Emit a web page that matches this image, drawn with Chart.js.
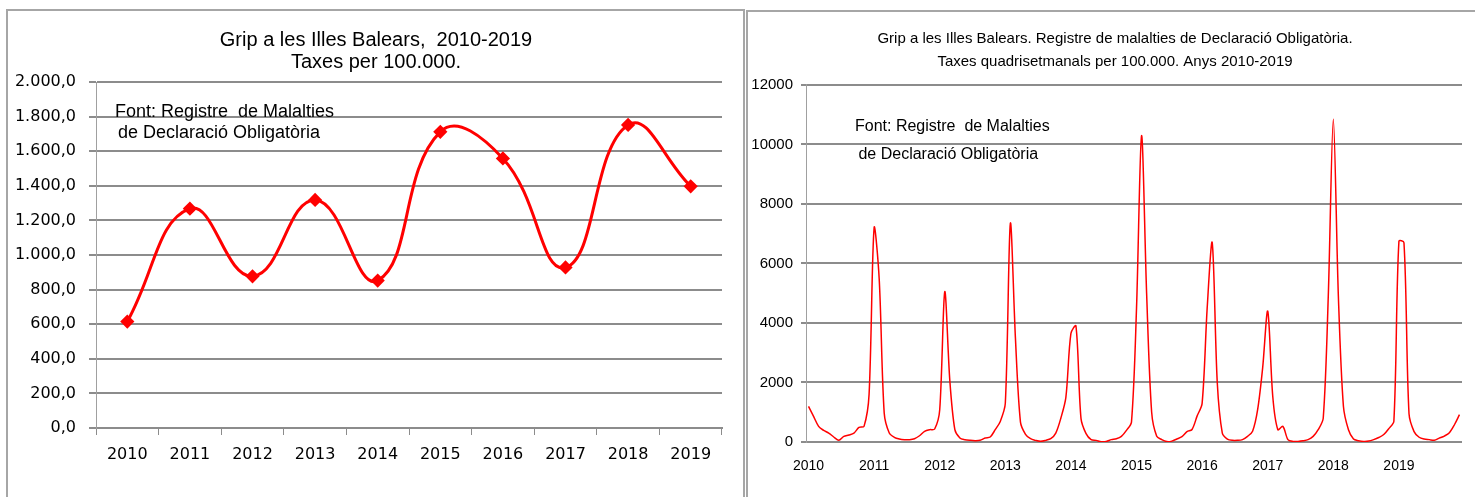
<!DOCTYPE html>
<html>
<head>
<meta charset="utf-8">
<script src="https://cdn.jsdelivr.net/npm/chart.js@4/dist/chart.umd.min.js"></script>
<style>
html,body{margin:0;padding:0;background:#fff;overflow:hidden;width:1475px;height:497px;}
.frame{position:absolute;border:2px solid #a6a6a6;box-sizing:border-box;}
#c1{position:absolute;left:7px;top:0;}
#c2{position:absolute;left:747px;top:0;}
</style>
</head>
<body>
<div class="frame" style="left:6px;top:9px;width:739px;height:600px;"></div>
<div class="frame" style="left:746px;top:10px;width:740px;height:600px;"></div>
<canvas id="c1" width="738" height="497"></canvas>
<canvas id="c2" width="736" height="497"></canvas>
<script>
// ---------- Left chart: annual rates ----------
const years = ['2010','2011','2012','2013','2014','2015','2016','2017','2018','2019'];
const annualRates = [615, 1268, 877, 1318, 852, 1712, 1558, 928, 1752, 1397];
const annualTitle = ['Grip a les Illes Balears,  2010-2019', 'Taxes per 100.000.'];
const annualNote = ['Font: Registre  de Malalties', ' de Declaració Obligatòria'];

// ---------- Right chart: four-weekly rates (13 periods per year) ----------
const rates2010 = [1200, 860, 525, 390, 300, 168, 56, 190, 235, 300, 490, 525, 1600];
const rates2011 = [7200, 5500, 970, 300, 157, 100, 78, 78, 110, 210, 360, 414, 436];
const rates2012 = [1085, 5050, 2070, 414, 134, 78, 56, 45, 56, 134, 168, 414, 690];
const rates2013 = [1300, 7350, 3500, 670, 260, 110, 55, 22, 55, 110, 300, 800, 1500];
const rates2014 = [3650, 3900, 785, 280, 80, 55, 10, 20, 80, 110, 190, 390, 670];
const rates2015 = [4500, 10300, 5000, 1000, 190, 80, 15, 30, 100, 180, 350, 420, 870];
const rates2016 = [1300, 4500, 6700, 2000, 300, 100, 55, 55, 80, 190, 360, 1085, 2500];
const rates2017 = [4400, 1530, 414, 525, 80, 20, 20, 40, 80, 190, 414, 800, 4900];
const rates2018 = [10850, 4900, 1200, 410, 100, 45, 20, 30, 80, 150, 250, 450, 700];
const rates2019 = [6750, 6700, 950, 350, 160, 100, 80, 60, 130, 200, 310, 580, 920];
const periodsPerYear = 13;
const quadTitle = ['Grip a les Illes Balears. Registre de malalties de Declaració Obligatòria.', 'Taxes quadrisetmanals per 100.000. Anys 2010-2019'];
const quadNote = ['Font: Registre  de Malalties', ' de Declaració Obligatòria'];

const quadRates = [].concat(rates2010, rates2011, rates2012, rates2013, rates2014,
                            rates2015, rates2016, rates2017, rates2018, rates2019);
const quadLabels = [];
years.forEach(y => { quadLabels.push(y); for (let k = 1; k < periodsPerYear; k++) quadLabels.push(''); });

function fmtEs(v) {
  const s = v.toFixed(1).split('.');
  const intPart = s[0].replace(/\B(?=(\d{3})+(?!\d))/g, '.');
  return intPart + ',' + s[1];
}

const notePlugin = {
  id: 'note',
  afterDraw(chart, args, opts) {
    const {ctx, chartArea} = chart;
    ctx.save();
    ctx.font = opts.font;
    ctx.fillStyle = '#000';
    ctx.textBaseline = 'alphabetic';
    ctx.textAlign = 'left';
    opts.lines.forEach(l => ctx.fillText(l.text, chartArea.left + l.dx, chartArea.top + l.dy));
    ctx.restore();
  }
};

const GRID = '#8c8c8c';
const AXIS = '#a0a0a0';
const SANS = '"Liberation Sans", Arial, sans-serif';

function spacerAxis(w) {
  return {
    position: 'right', display: true,
    grid: { display: false, drawTicks: false },
    border: { display: false },
    ticks: { display: false },
    afterFit(s) { s.width = w; }
  };
}

new Chart(document.getElementById('c1'), {
  type: 'line',
  data: {
    labels: years,
    datasets: [{
      data: annualRates,
      borderColor: '#ff0000',
      backgroundColor: '#ff0000',
      borderWidth: 3,
      tension: 0.45,
      pointStyle: 'rectRot',
      pointRadius: 5,
      pointBackgroundColor: '#ff0000',
      pointBorderColor: '#ff0000',
      fill: false
    }]
  },
  options: {
    responsive: false,
    animation: false,
    layout: { padding: 0 },
    plugins: {
      legend: { display: false },
      tooltip: { enabled: false },
      title: {
        display: true,
        text: annualTitle,
        color: '#000',
        font: { family: SANS, size: 20, weight: 'normal', lineHeight: 1.1 },
        padding: { top: 29, bottom: 9 }
      },
      note: {
        font: '18px ' + SANS,
        lines: [ { text: annualNote[0], dx: 19, dy: 35 }, { text: annualNote[1], dx: 17, dy: 56 } ]
      }
    },
    scales: {
      x: {
        offset: true,
        grid: { display: true, drawOnChartArea: false, drawTicks: true, tickLength: 7, color: GRID, lineWidth: 1, offset: true },
        border: { display: true, color: GRID, width: 2 },
        ticks: { color: '#000', padding: 10, font: { family: '"DejaVu Sans", sans-serif', size: 16 }, maxRotation: 0 },
        afterFit(s) { s.height = 69; }
      },
      y: {
        min: 0, max: 2000,
        ticks: { stepSize: 200, color: '#000', padding: 13, font: { family: '"DejaVu Sans", sans-serif', size: 16 }, callback: v => fmtEs(v) },
        grid: { color: GRID, lineWidth: 2, tickLength: 7 },
        border: { display: true, color: AXIS, width: 1 },
        afterFit(s) { s.width = 89; }
      },
      yR: spacerAxis(23)
    }
  },
  plugins: [notePlugin]
});

new Chart(document.getElementById('c2'), {
  type: 'line',
  data: {
    labels: quadLabels,
    datasets: [{
      data: quadRates,
      borderColor: '#ff0000',
      borderWidth: 1.5,
      tension: 0.3,
      pointRadius: 0,
      fill: false
    }]
  },
  options: {
    responsive: false,
    animation: false,
    layout: { padding: 0 },
    plugins: {
      legend: { display: false },
      tooltip: { enabled: false },
      title: {
        display: true,
        text: quadTitle,
        color: '#000',
        font: { family: SANS, size: 15, weight: 'normal', lineHeight: 1.533 },
        padding: { top: 27, bottom: 12 }
      },
      note: {
        font: '16px ' + SANS,
        lines: [ { text: quadNote[0], dx: 49, dy: 46 }, { text: quadNote[1], dx: 48, dy: 74 } ]
      }
    },
    scales: {
      x: {
        offset: true,
        grid: { display: false, drawTicks: false },
        border: { display: false },
        ticks: { autoSkip: false, maxRotation: 0, minRotation: 0, color: '#000', padding: 16,
                 font: { family: SANS, size: 14 },
                 callback: (v, i) => quadLabels[i] },
        afterFit(s) { s.height = 55; }
      },
      y: {
        min: 0, max: 12000,
        ticks: { stepSize: 2000, color: '#000', padding: 8, font: { family: SANS, size: 15 }, callback: v => String(v) },
        grid: { color: GRID, lineWidth: 2, tickLength: 5 },
        border: { display: true, color: AXIS, width: 1 },
        afterFit(s) { s.width = 59; }
      },
      yR: spacerAxis(21)
    }
  },
  plugins: [notePlugin]
});
</script>
</body>
</html>
